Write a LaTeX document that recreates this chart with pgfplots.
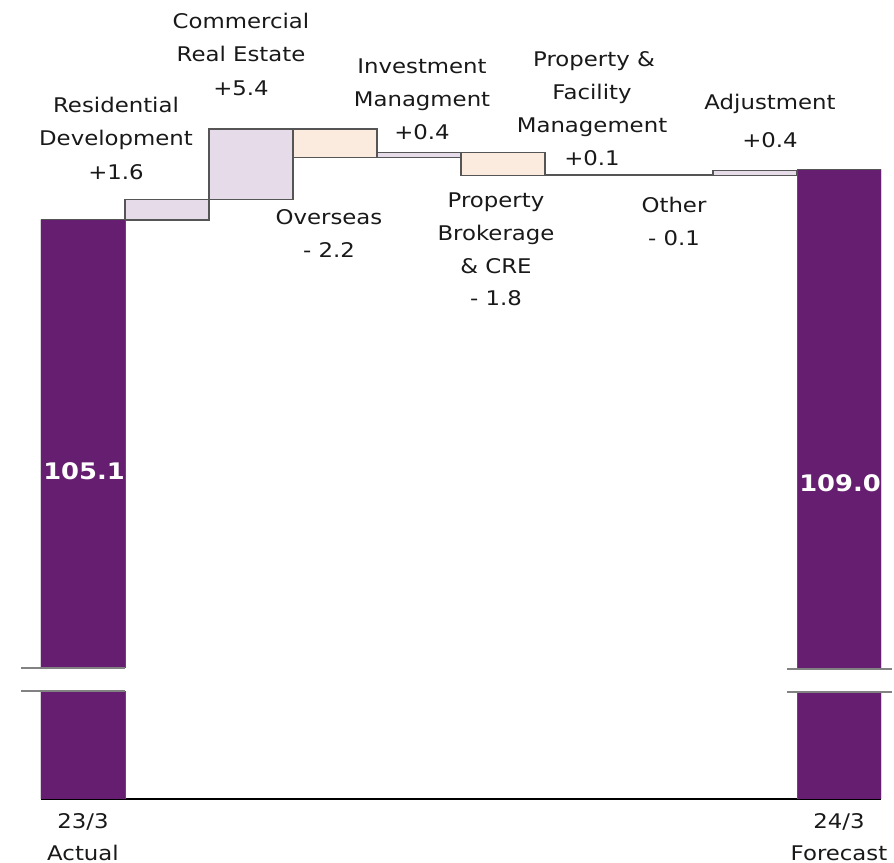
\documentclass[border=0pt]{standalone}
\usepackage{pgfplots}
\pgfplotsset{compat=1.18}
\usepackage{pgfplotstable}
\usepackage{fontspec}
\setmainfont{DejaVu Sans}[FakeStretch=1.13]
\definecolor{darkp}{RGB}{102,31,112}
\definecolor{lightp}{RGB}{229,219,233}
\definecolor{peach}{RGB}{251,235,223}
\definecolor{edge}{RGB}{85,85,85}
\definecolor{txt}{RGB}{25,25,25}
\definecolor{brk}{RGB}{130,130,130}

\pgfplotstableread{
x base dark purple peach
0 0     105.1 0   0
1 105.1 0     1.6 0
2 106.7 0     5.4 0
3 109.9 0     0   2.2
4 109.9 0     0.4 0
5 108.5 0     0   1.8
6 108.5 0     0.1 0
7 108.5 0     0   0.1
8 108.5 0     0.4 0
9 0     109.0 0   0
}\wfdata

\newcommand\lab[3]{\node[anchor=base,inner sep=0pt,text=txt] at ({#1*0.5pt},{(862-#2)*0.5pt}) {#3};}

\begin{document}
\begin{tikzpicture}[font=\fontsize{10.1pt}{17pt}\selectfont]
\path[use as bounding box] (0,0) rectangle (447pt,431pt);
\begin{axis}[
  at={(20.5pt,31.5pt)}, anchor=south west,
  x=42pt, y=6.5pt,
  xmin=-0.5, xmax=9.5, ymin=60.56, ymax=117,
  hide y axis, axis x line*=bottom,
  xtick=\empty, ytick=\empty,
  axis line style={black, line width=0.8pt},
  ybar stacked, bar width=42pt,
]
\addplot[draw=none, fill=none] table[x=x,y=base]{\wfdata};
\addplot[fill=darkp, draw=edge, line width=0.5pt] table[x=x,y=dark]{\wfdata};
\addplot[fill=lightp, draw=edge, line width=0.6pt] table[x=x,y=purple]{\wfdata};
\addplot[fill=peach, draw=edge, line width=0.6pt] table[x=x,y=peach]{\wfdata};
\end{axis}
% axis break
\fill[white] (20pt,85.5pt) rectangle (63pt,97pt);
\draw[brk, line width=0.75pt] (10.5pt,97pt) -- (62.5pt,97pt);
\draw[brk, line width=0.75pt] (10.5pt,85.5pt) -- (62.5pt,85.5pt);
\fill[white] (398pt,85pt) rectangle (441pt,96.5pt);
\draw[brk, line width=0.75pt] (393.5pt,96.5pt) -- (446pt,96.5pt);
\draw[brk, line width=0.75pt] (393.5pt,85pt) -- (446pt,85pt);
% labels
\lab{116}{113}{Residential}
\lab{116}{146}{Development}
\lab{116}{180}{+1.6}
\lab{241}{29}{Commercial}
\lab{241}{62}{Real Estate}
\lab{241}{96}{+5.4}
\lab{422}{74}{Investment}
\lab{422}{107}{Managment}
\lab{422}{140}{+0.4}
\lab{594}{67}{Property \&}
\lab{592}{100}{Facility}
\lab{592}{133}{Management}
\lab{592}{166}{+0.1}
\lab{770}{110}{Adjustment}
\lab{770}{148}{+0.4}
\lab{329}{225}{Overseas}
\lab{329}{258}{- 2.2}
\lab{496}{208}{Property}
\lab{496}{241}{Brokerage}
\lab{496}{274}{\& CRE}
\lab{496}{306}{- 1.8}
\lab{674}{213}{Other}
\lab{674}{246}{- 0.1}
\node[anchor=base,inner sep=0pt,text=white,font=\fontsize{11.4pt}{13pt}\selectfont\bfseries] at (42pt,{(862-480)*0.5pt}) {105.1};
\node[anchor=base,inner sep=0pt,text=white,font=\fontsize{11.4pt}{13pt}\selectfont\bfseries] at (420pt,{(862-492)*0.5pt}) {109.0};
\lab{83}{829}{23/3}
\lab{83}{860}{Actual}
\lab{839}{829}{24/3}
\lab{839}{860}{Forecast}
\end{tikzpicture}
\end{document}
